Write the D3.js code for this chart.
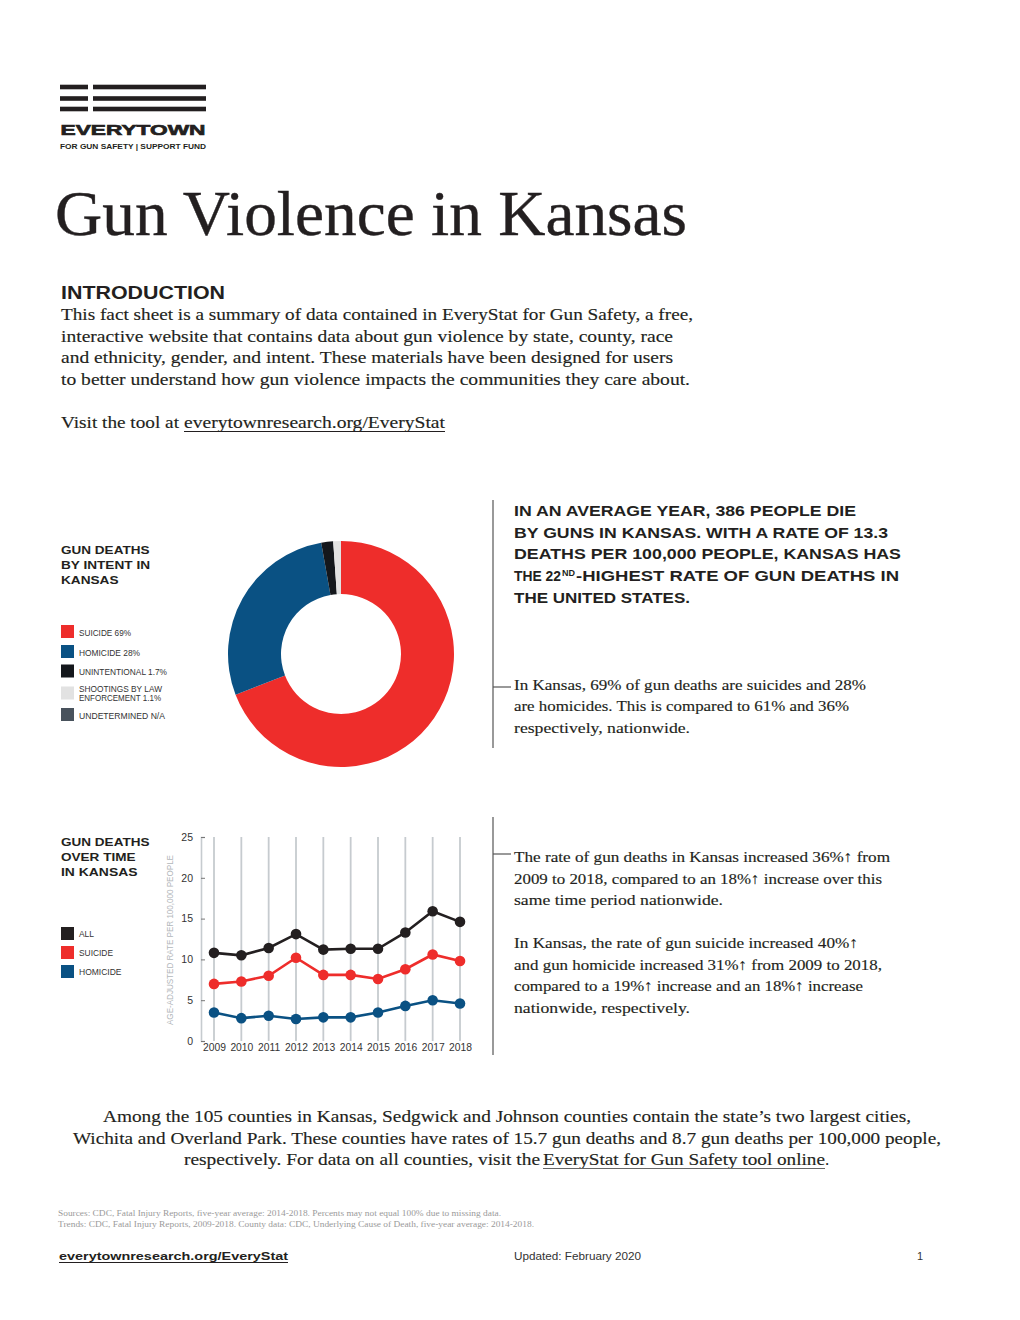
<!DOCTYPE html>
<html><head><meta charset="utf-8">
<script src="https://cdn.jsdelivr.net/npm/d3@7"></script>
<style>html,body{margin:0;padding:0;background:#fff;}svg{display:block;}</style>
</head><body>
<script>
// ---------- DATA ----------
const intentLabels = ["SUICIDE 69%", "HOMICIDE 28%", "UNINTENTIONAL 1.7%", "SHOOTINGS BY LAW|ENFORCEMENT 1.1%", "UNDETERMINED N/A"];
const intentValues = [69, 28, 1.7, 1.1, 0];
const intentColors = ["#ee2d2b", "#0a5183", "#14171c", "#e2e2e2", "#48525c"];

const years = [2009, 2010, 2011, 2012, 2013, 2014, 2015, 2016, 2017, 2018];
const allRate = [10.8, 10.5, 11.4, 13.1, 11.2, 11.3, 11.3, 13.3, 15.9, 14.6];
const suicideRate = [7.0, 7.3, 8.0, 10.2, 8.1, 8.1, 7.6, 8.8, 10.6, 9.8];
const homicideRate = [3.5, 2.8, 3.1, 2.7, 2.9, 2.9, 3.5, 4.3, 5.0, 4.6];
const seriesNames = ["ALL", "SUICIDE", "HOMICIDE"];
const seriesColors = ["#231f20", "#ee2d2b", "#0a5183"];
const yTicks = [0, 5, 10, 15, 20, 25];

// ---------- SETUP ----------
const W = 1020, H = 1320;
const svg = d3.select("body").append("svg").attr("width", W).attr("height", H);
svg.append("rect").attr("width", W).attr("height", H).attr("fill", "#fff");
const SERIF = "'Liberation Serif', 'DejaVu Serif', serif";
const SANS = "'Liberation Sans', Arial, sans-serif";
const INK = "#231f20";

function txt(str, x, y, o = {}) {
  const t = svg.append("text").attr("x", x).attr("y", y).text(str)
    .attr("font-family", o.family || SERIF)
    .attr("font-size", o.size || 15)
    .attr("font-weight", o.weight || "normal")
    .attr("fill", o.fill || INK)
    .attr("text-anchor", o.anchor || "start");
  if (o.len) t.attr("textLength", o.len).attr("lengthAdjust", "spacingAndGlyphs");
  if (o.ls) t.attr("letter-spacing", o.ls);
  if (o.stroke) t.attr("stroke", o.fill || INK).attr("stroke-width", o.stroke);
  return t;
}
function hline(x1, x2, y, c, w) {
  svg.append("line").attr("x1", x1).attr("x2", x2).attr("y1", y).attr("y2", y).attr("stroke", c || INK).attr("stroke-width", w || 1);
}
function vline(x, y1, y2, c, w) {
  svg.append("line").attr("x1", x).attr("x2", x).attr("y1", y1).attr("y2", y2).attr("stroke", c || INK).attr("stroke-width", w || 1);
}

// ---------- LOGO ----------
[87, 98.5, 109].forEach(y => {
  svg.append("rect").attr("x", 60).attr("y", y - 2.3).attr("width", 28).attr("height", 4.6).attr("fill", INK);
  svg.append("rect").attr("x", 93).attr("y", y - 2.3).attr("width", 113).attr("height", 4.6).attr("fill", INK);
});
txt("EVERYTOWN", 60.5, 135, {family: SANS, weight: "bold", size: 15.5, len: 145, stroke: 0.7});
txt("FOR GUN SAFETY  |  SUPPORT FUND", 60, 149.3, {family: SANS, weight: "bold", size: 7, len: 146});

// ---------- TITLE ----------
txt("Gun Violence in Kansas", 55, 235, {size: 64, len: 632, stroke: 0.4});

// ---------- INTRO ----------
txt("INTRODUCTION", 61, 298.5, {family: SANS, weight: "bold", size: 17.5, len: 164});
const intro = [
  ["This fact sheet is a summary of data contained in EveryStat for Gun Safety, a free,", 632],
  ["interactive website that contains data about gun violence by state, county, race", 612],
  ["and ethnicity, gender, and intent. These materials have been designed for users", 612],
  ["to better understand how gun violence impacts the communities they care about.", 629]
];
intro.forEach((l, i) => txt(l[0], 61, 320 + i * 21.6, {size: 16.5, len: l[1], stroke: 0.15}));
txt("Visit the tool at ", 61, 428, {size: 16.5, len: 118, stroke: 0.15});
txt("everytownresearch.org/EveryStat", 184, 428, {size: 16.5, len: 261, stroke: 0.15});
hline(184, 445, 431.5, INK, 1);

// ---------- DONUT SECTION ----------
txt("GUN DEATHS", 61, 553.5, {family: SANS, weight: "bold", size: 11, len: 88.5});
txt("BY INTENT IN", 61, 568.5, {family: SANS, weight: "bold", size: 11, len: 89});
txt("KANSAS", 61, 583.5, {family: SANS, weight: "bold", size: 11, len: 57.5});

const legY = [625, 645, 664.5, 686.5, 708];
const legW = [52, 61, 88, 83, 86];
intentLabels.forEach((lab, i) => {
  svg.append("rect").attr("x", 61).attr("y", legY[i]).attr("width", 13).attr("height", 13).attr("fill", intentColors[i]);
  const parts = lab.split("|");
  if (parts.length === 1) {
    txt(lab, 79, legY[i] + 10.5, {family: SANS, size: 8.3, fill: "#333", len: legW[i]});
  } else {
    txt(parts[0], 79, legY[i] + 5.8, {family: SANS, size: 8.3, fill: "#333", len: 83});
    txt(parts[1], 79, legY[i] + 14.8, {family: SANS, size: 8.3, fill: "#333", len: 82});
  }
});

const pie = d3.pie().sort(null).value(d => d);
const arc = d3.arc().innerRadius(60).outerRadius(113);
const donut = svg.append("g").attr("transform", "translate(341,654)");
donut.selectAll("path").data(pie(intentValues)).join("path")
  .attr("d", arc).attr("fill", (d, i) => intentColors[i]);

// divider 1
vline(493, 500, 748, "#555", 1.2);
hline(493, 511, 687, "#555", 1.2);

const s = {family: SANS, weight: "bold", size: 14.2};
txt("IN AN AVERAGE YEAR, 386 PEOPLE DIE", 514, 516, Object.assign({len: 342}, s));
txt("BY GUNS IN KANSAS. WITH A RATE OF 13.3", 514, 537.7, Object.assign({len: 374}, s));
txt("DEATHS PER 100,000 PEOPLE, KANSAS HAS", 514, 559.4, Object.assign({len: 387}, s));
txt("THE 22", 514, 581.1, Object.assign({len: 47}, s));
txt("ND", 562, 575.5, {family: SANS, weight: "bold", size: 8.5, len: 13});
txt("-HIGHEST RATE OF GUN DEATHS IN", 576, 581.1, Object.assign({len: 323}, s));
txt("THE UNITED STATES.", 514, 602.8, Object.assign({len: 176}, s));

const p1 = [["In Kansas, 69% of gun deaths are suicides and 28%", 352],
            ["are homicides. This is compared to 61% and 36%", 335],
            ["respectively, nationwide.", 176]];
p1.forEach((l, i) => txt(l[0], 514, 689.5 + i * 21.7, {size: 15.5, len: l[1], stroke: 0.15}));

// ---------- LINE CHART SECTION ----------
txt("GUN DEATHS", 61, 845.5, {family: SANS, weight: "bold", size: 11, len: 88.5});
txt("OVER TIME", 61, 860.5, {family: SANS, weight: "bold", size: 11, len: 74.5});
txt("IN KANSAS", 61, 875.5, {family: SANS, weight: "bold", size: 11, len: 76.5});
const leg2Y = [927, 946, 965];
const leg2W = [15, 34, 42.5];
seriesNames.forEach((n, i) => {
  svg.append("rect").attr("x", 61).attr("y", leg2Y[i]).attr("width", 13).attr("height", 13).attr("fill", seriesColors[i]);
  txt(n, 79, leg2Y[i] + 9.5, {family: SANS, size: 8.3, fill: "#333", len: leg2W[i]});
});

const x = d3.scalePoint().domain(years).range([214, 460]);
const y = d3.scaleLinear().domain([0, 25]).range([1041, 837]);
const chart = svg.append("g");

// vertical gridlines
chart.selectAll("line.grid").data(years).join("line").attr("class", "grid")
  .attr("x1", d => x(d)).attr("x2", d => x(d)).attr("y1", y(25)).attr("y2", y(0))
  .attr("stroke", "#c6cbcf").attr("stroke-width", 1.8);

// y axis
const yAxis = chart.append("g").attr("transform", "translate(201,0)")
  .call(d3.axisLeft(y).tickValues(yTicks).tickSize(-4).tickPadding(8));
yAxis.select(".domain").attr("stroke", "#c6cbcf").attr("stroke-width", 1.6);
yAxis.selectAll(".tick line").attr("stroke", "#777").attr("stroke-width", 1);
yAxis.selectAll(".tick text").attr("font-family", SANS).attr("font-size", 10.5).attr("fill", "#333");

// x axis labels
const xAxis = chart.append("g").attr("transform", "translate(0,1041)")
  .call(d3.axisBottom(x).tickSize(0).tickPadding(3));
xAxis.select(".domain").remove();
xAxis.selectAll(".tick text").attr("font-family", SANS).attr("font-size", 10.3).attr("fill", "#333");

// y axis title
svg.append("text").attr("transform", "translate(173,940) rotate(-90)")
  .attr("text-anchor", "middle").attr("font-family", SANS).attr("font-size", 8.3)
  .attr("fill", "#b3b7bb").attr("textLength", 170).attr("lengthAdjust", "spacingAndGlyphs")
  .text("AGE-ADJUSTED RATE PER 100,000 PEOPLE");

const seriesData = [allRate, suicideRate, homicideRate];
const line = d3.line().x((d, i) => x(years[i])).y(d => y(d));
[2, 1, 0].forEach(k => {
  const g = chart.append("g");
  g.append("path").datum(seriesData[k]).attr("d", line).attr("fill", "none")
    .attr("stroke", seriesColors[k]).attr("stroke-width", 2.6);
  g.selectAll("circle").data(seriesData[k]).join("circle")
    .attr("cx", (d, i) => x(years[i])).attr("cy", d => y(d)).attr("r", 5.3)
    .attr("fill", seriesColors[k]);
});

// divider 2
vline(493, 817, 1055, "#555", 1.2);
hline(493, 511, 854, "#555", 1.2);
const p2 = [["The rate of gun deaths in Kansas increased 36%\u2191 from", 376],
            ["2009 to 2018, compared to an 18%\u2191 increase over this", 368],
            ["same time period nationwide.", 209]];
p2.forEach((l, i) => txt(l[0], 514, 862 + i * 21.6, {size: 15.5, len: l[1], stroke: 0.15}));
const p3 = [["In Kansas, the rate of gun suicide increased 40%\u2191", 344],
            ["and gun homicide increased 31%\u2191 from 2009 to 2018,", 368],
            ["compared to a 19%\u2191 increase and an 18%\u2191 increase", 349],
            ["nationwide, respectively.", 176]];
p3.forEach((l, i) => txt(l[0], 514, 948 + i * 21.6, {size: 15.5, len: l[1], stroke: 0.15}));

// ---------- BOTTOM PARAGRAPH ----------
txt("Among the 105 counties in Kansas, Sedgwick and Johnson counties contain the state\u2019s two largest cities,", 103, 1122, {size: 17, len: 808, stroke: 0.15});
txt("Wichita and Overland Park. These counties have rates of 15.7 gun deaths and 8.7 gun deaths per 100,000 people,", 73, 1143.5, {size: 17, len: 868, stroke: 0.15});
txt("respectively. For data on all counties, visit the ", 184, 1165, {size: 17, len: 356, stroke: 0.15});
txt("EveryStat for Gun Safety tool online", 543, 1165, {size: 17, len: 282, stroke: 0.15});
txt(".", 825, 1165, {size: 17});
hline(543, 825, 1168.5, "#666", 1.2);

// ---------- SOURCES & FOOTER ----------
txt("Sources: CDC, Fatal Injury Reports, five-year average: 2014-2018. Percents may not equal 100% due to missing data.", 58, 1216, {size: 7.6, fill: "#9a9a9a", len: 443});
txt("Trends: CDC, Fatal Injury Reports, 2009-2018.  County data: CDC, Underlying Cause of Death, five-year average: 2014-2018.", 58, 1227, {size: 7.6, fill: "#9a9a9a", len: 476});

txt("everytownresearch.org/EveryStat", 59, 1260, {family: SANS, weight: "bold", size: 11.5, len: 229});
hline(59, 288, 1262.5, INK, 1);
txt("Updated: February 2020", 514, 1260, {family: SANS, size: 11, fill: "#333", len: 127});
txt("1", 917, 1260, {family: SANS, size: 11, fill: "#333"});
</script>
</body></html>
